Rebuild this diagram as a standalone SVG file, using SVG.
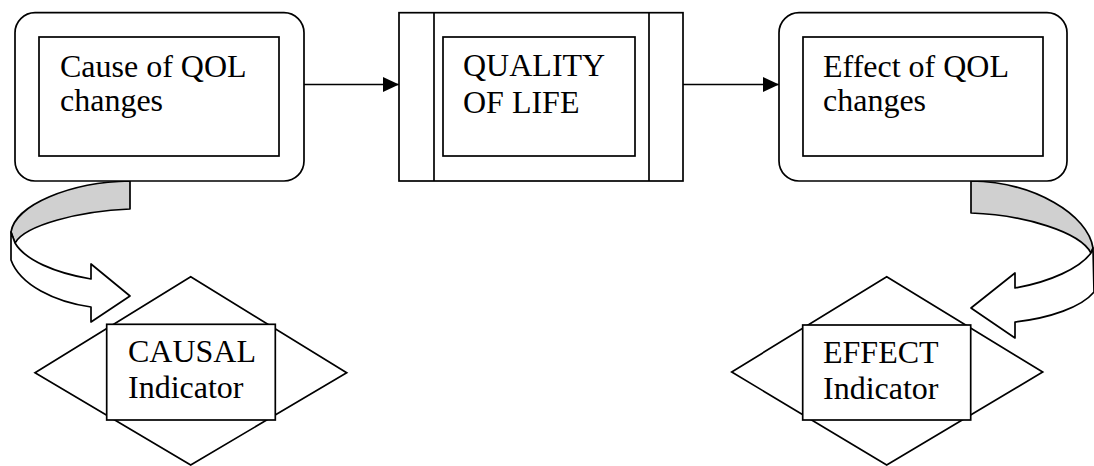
<svg xmlns="http://www.w3.org/2000/svg" width="1094" height="466" viewBox="0 0 1094 466">
<defs>
<style>
.s{fill:#fff;stroke:#000;stroke-width:1.7}
.g{fill:#d0d0d0;stroke:#000;stroke-width:1.7;stroke-linejoin:round}
.c{fill:none;stroke:#000;stroke-width:1.7}
.t{font-family:"Liberation Serif","Times New Roman",serif;font-size:32px;fill:#000}
</style>
<marker id="ah" viewBox="0 0 16 15" refX="16" refY="7.5" markerUnits="userSpaceOnUse" markerWidth="16" markerHeight="15" orient="auto">
<path d="M0,0 L16,7.5 L0,15 Z" fill="#000"/>
</marker>
</defs>
<rect width="1094" height="466" fill="#fff"/>

<g id="connectors">
<line class="c" x1="304" y1="84.5" x2="399" y2="84.5" marker-end="url(#ah)"/>
<line class="c" x1="683" y1="84.5" x2="779" y2="84.5" marker-end="url(#ah)"/>
<g id="curved-left">
<path class="g" d="M130,181 C70,182 15,205 11,232 L15,243 C25,225 80,211 130,209 Z"/>
<path class="s" stroke-linejoin="round" d="M11,232 L11,260 C20,285 55,302 91,307 L91,322 L130,296 L91,264 L91,279 C55,273 25,260 15,243 Z"/>
</g>
<g id="curved-right">
<path class="g" d="M971,181 C1035,182 1088,215 1093,248 L1091,253 C1080,232 1025,215 971,213 Z"/>
<path class="s" stroke-linejoin="round" d="M1093,248 L1094,292 C1082,307 1050,318 1015,322 L1015,338 L971,308 L1015,273 L1015,288 C1050,282 1080,268 1091,253 Z"/>
</g>
</g>

<g id="cause">
<rect class="s" x="15" y="12.7" width="289" height="168.3" rx="20" ry="20"/>
<rect class="s" x="39" y="37" width="240" height="119"/>
<text class="t" x="60" y="77">Cause of QOL</text>
<text class="t" x="60" y="111">changes</text>
</g>

<g id="quality">
<rect class="s" x="399" y="12.7" width="284" height="168.3"/>
<line class="c" x1="434" y1="12.7" x2="434" y2="181"/>
<line class="c" x1="649" y1="12.7" x2="649" y2="181"/>
<rect class="s" x="443" y="37" width="192" height="119"/>
<text class="t" x="463" y="76">QUALITY</text>
<text class="t" x="463" y="113">OF LIFE</text>
</g>

<g id="effect">
<rect class="s" x="779" y="12.7" width="288" height="168.3" rx="20" ry="20"/>
<rect class="s" x="803" y="37" width="240" height="119"/>
<text class="t" x="823" y="77">Effect of QOL</text>
<text class="t" x="823" y="111">changes</text>
</g>

<g id="causal-indicator">
<polygon class="s" points="190.7,276.7 346.7,372.7 190.7,465 35,372.7"/>
<rect class="s" x="106.7" y="324.3" width="168.6" height="95.7"/>
<text class="t" x="128" y="362">CAUSAL</text>
<text class="t" x="128" y="398">Indicator</text>
</g>

<g id="effect-indicator">
<polygon class="s" points="886.7,276.7 1042.7,372 886.7,465 731.7,372"/>
<rect class="s" x="802.7" y="325" width="168" height="95"/>
<text class="t" x="823" y="363">EFFECT</text>
<text class="t" x="823" y="399">Indicator</text>
</g>
</svg>
